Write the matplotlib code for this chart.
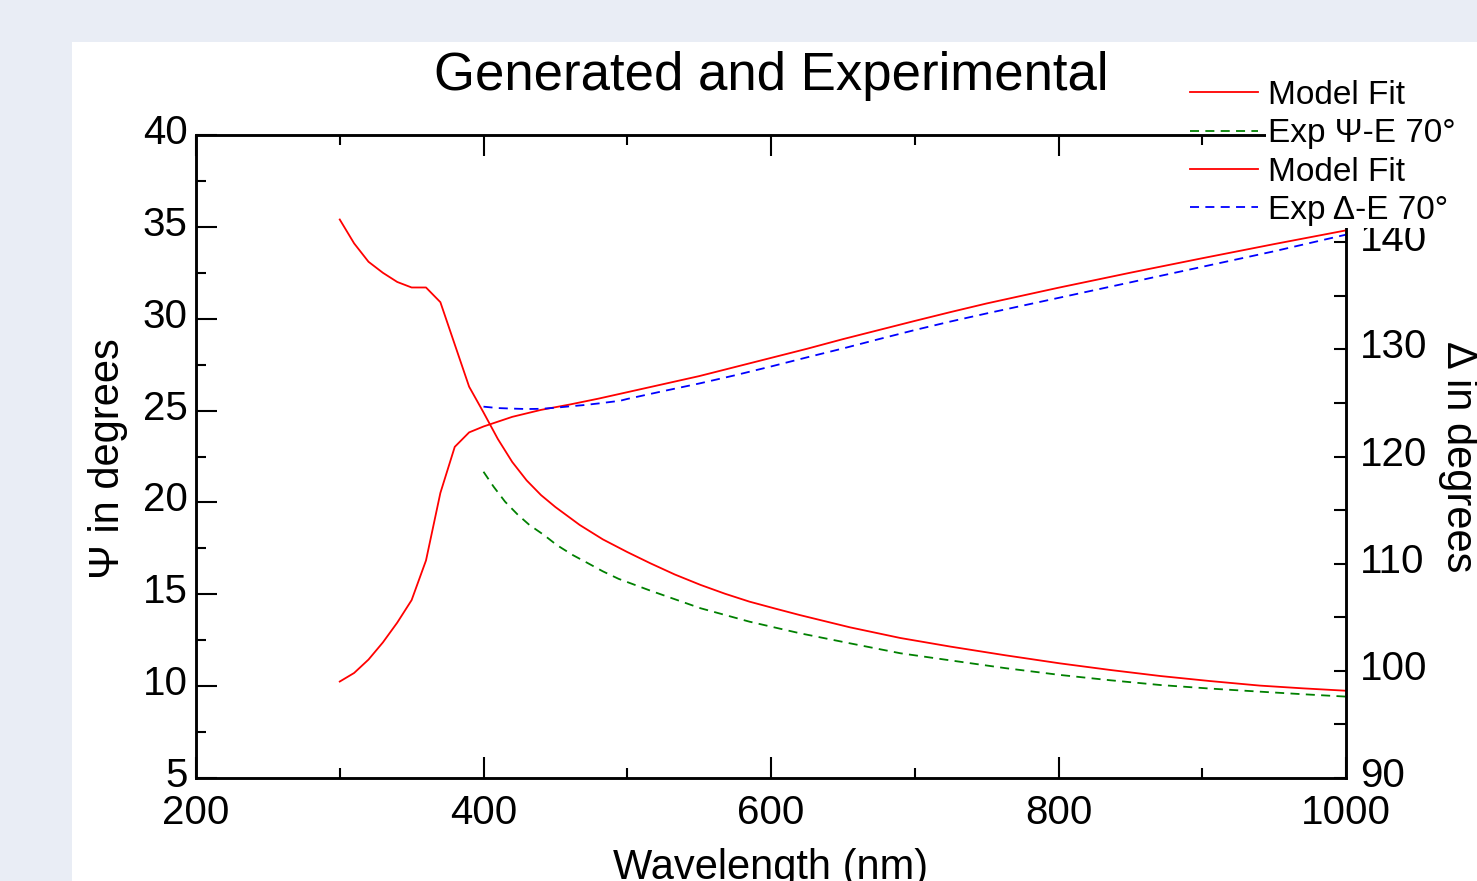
import matplotlib
matplotlib.use("Agg")
import matplotlib.pyplot as plt
from matplotlib.patches import Rectangle
from matplotlib.ticker import MultipleLocator, FixedLocator, FixedFormatter
from matplotlib.transforms import ScaledTranslation

plt.rcParams['font.family'] = ['Liberation Sans', 'DejaVu Sans']

# ---------------- data ----------------
psi_fit_wl = [300, 310, 320, 330, 340, 350, 360, 370, 380, 390, 400, 410, 420, 430, 440,
              450, 467, 483, 500, 516, 533, 551, 568, 585, 603, 620, 655, 690, 725, 763,
              801, 836, 871, 905, 940, 970, 1000]
psi_fit = [35.4, 34.1, 33.1, 32.5, 32.0, 31.7, 31.7, 30.9, 28.6, 26.3, 24.9, 23.45, 22.2, 21.2, 20.4,
           19.75, 18.77, 17.99, 17.3, 16.69, 16.08, 15.51, 15.03, 14.6, 14.22, 13.87, 13.2, 12.62,
           12.15, 11.68, 11.24, 10.88, 10.55, 10.28, 10.03, 9.88, 9.75]

psi_exp_wl = [400, 407, 415, 424, 432, 442, 451, 462, 472, 483, 494, 516, 551, 585, 620, 655,
              690, 725, 763, 801, 836, 871, 905, 940, 970, 1000]
psi_exp = [21.67, 20.86, 20.04, 19.32, 18.77, 18.23, 17.68, 17.14, 16.72, 16.25, 15.84, 15.2,
           14.24, 13.51, 12.88, 12.33, 11.79, 11.4, 10.98, 10.61, 10.32, 10.06, 9.87, 9.7, 9.56, 9.43]

del_fit_wl = [300, 310, 320, 330, 340, 350, 360, 370, 380, 390, 400, 410, 420, 440, 460, 480, 500,
              525, 550, 575, 600, 625, 650, 675, 700, 725, 750, 800, 850, 900, 950, 1000]
del_fit = [99.0, 99.8, 101.05, 102.65, 104.5, 106.6, 110.3, 116.6, 120.9, 122.25, 122.8, 123.25, 123.7,
           124.35, 124.85, 125.4, 126.0, 126.75, 127.5, 128.35, 129.2, 130.05, 130.95, 131.8, 132.65,
           133.48, 134.28, 135.75, 137.15, 138.5, 139.82, 141.1]

del_exp_wl = [400, 410, 420, 430, 440, 450, 460, 470, 480, 495, 500, 525, 550, 575, 600, 625, 650,
              675, 700, 725, 750, 800, 850, 900, 950, 1000]
del_exp = [124.65, 124.52, 124.47, 124.43, 124.45, 124.55, 124.68, 124.8, 124.95, 125.2, 125.37,
           126.1, 126.81, 127.58, 128.4, 129.25, 130.08, 130.95, 131.8, 132.6, 133.35, 134.8,
           136.25, 137.7, 139.15, 140.7]

delta_ticks = [90, 100, 110, 120, 130, 140, 150]
delta_tick_labels = ["90", "100", "110", "120", "130", "140", ""]   # 150 is hidden by the legend

legend_labels = ["Model Fit", "Exp Ψ-E 70°", "Model Fit", "Exp Δ-E 70°"]

# ---------------- figure ----------------
W, H = 1477, 881
fig = plt.figure(figsize=(W / 100, H / 100), dpi=100)
fig.patch.set_facecolor('#e9edf5')
fig.add_artist(Rectangle((72 / W, 0), 1 - 72 / W, 1 - 42 / H, transform=fig.transFigure,
                         facecolor='white', edgecolor='none', zorder=-10))

ax = fig.add_axes([196 / W, 1 - 778 / H, (1346 - 196) / W, (778 - 135) / H])
ax.set_facecolor('none')
ax2 = ax.twinx()

l1, = ax.plot(psi_fit_wl, psi_fit, color='#ff0000', lw=1.3)
l2, = ax.plot(psi_exp_wl, psi_exp, color='#008000', lw=1.3, dashes=(5, 3.5))
l3, = ax2.plot(del_fit_wl, del_fit, color='#ff0000', lw=1.3)
l4, = ax2.plot(del_exp_wl, del_exp, color='#0000ff', lw=1.3, dashes=(5, 3.5))

ax.set_xlim(200, 1000)
ax.set_ylim(5, 40)
ax2.set_ylim(90, 150)

ax.xaxis.set_major_locator(MultipleLocator(200))
ax.xaxis.set_minor_locator(MultipleLocator(100))
ax.yaxis.set_major_locator(MultipleLocator(5))
ax.yaxis.set_minor_locator(MultipleLocator(2.5))
ax2.yaxis.set_major_locator(FixedLocator(delta_ticks))
ax2.yaxis.set_major_formatter(FixedFormatter(delta_tick_labels))
ax2.yaxis.set_minor_locator(MultipleLocator(5))

for a in (ax, ax2):
    for s in a.spines.values():
        s.set_linewidth(1.8)

ax.tick_params(axis='x', which='both', direction='in', top=True, bottom=True,
               labelsize=29, pad=11.8, width=1.5)
ax.tick_params(axis='x', which='major', length=15)
ax.tick_params(axis='x', which='minor', length=7.5)
ax.tick_params(axis='y', which='both', direction='in', left=True, right=False,
               labelsize=29, pad=6, width=1.5)
ax.tick_params(axis='y', which='major', length=15)
ax.tick_params(axis='y', which='minor', length=7.5)
ax2.tick_params(axis='y', which='both', direction='in', right=True, left=False,
                labelsize=29, pad=10, width=1.5, length=9)

ax.set_title("Generated and Experimental", fontsize=38, y=1.057)
ax.set_xlabel("Wavelength (nm)", fontsize=30)
ax.xaxis.set_label_coords(0.5, -0.1085)
ax.set_ylabel("Ψ in degrees", fontsize=30)
ax.yaxis.set_label_coords(-0.059, 0.496)
ax2.set_ylabel("Δ in degrees", fontsize=30, rotation=270)
ax2.yaxis.set_label_coords(1.115, 0.5)

# white cover behind legend texts
fig.add_artist(Rectangle((1266 / W, 1 - 228 / H), 1 - 1266 / W, (228 - 72) / H,
                         transform=fig.transFigure, facecolor='white', edgecolor='none', zorder=4))

leg = fig.legend([l1, l2, l3, l4], legend_labels, loc='upper left',
                 bbox_to_anchor=(1190 / W, 1 - 80 / H), frameon=False, fontsize=24,
                 borderpad=0, borderaxespad=0, labelspacing=0.22, handlelength=2.05,
                 handletextpad=0.3)
leg.set_zorder(6)

# shift y tick labels slightly upward, as in the reference
fig.canvas.draw()
up = ScaledTranslation(0, 6 / 100, fig.dpi_scale_trans)
for a in (ax, ax2):
    for t in a.yaxis.get_major_ticks():
        t.label1.set_transform(t.label1.get_transform() + up)
        t.label2.set_transform(t.label2.get_transform() + up)

fig.savefig("out.png", dpi=100, facecolor=fig.get_facecolor())
